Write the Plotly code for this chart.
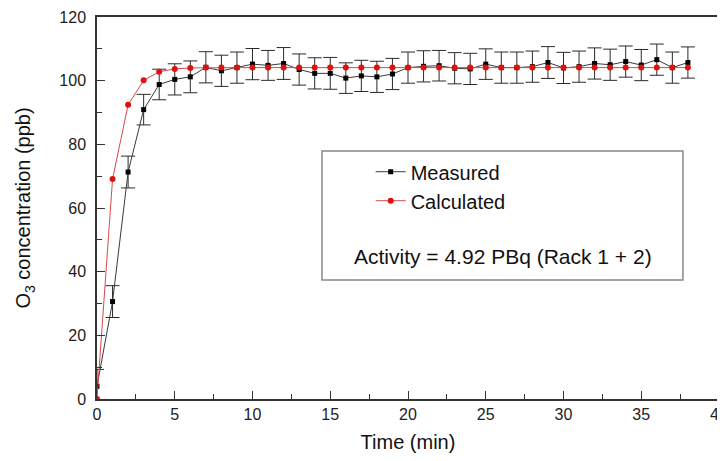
import plotly.graph_objects as go

time_min = list(range(0, 39))
measured = [4.0, 30.6, 71.3, 90.9, 98.8, 100.4, 101.2, 104.2, 103.1, 104.1,
            105.2, 104.8, 105.4, 103.5, 102.3, 102.3, 100.8, 101.5, 101.2, 102.1,
            104.1, 104.5, 104.7, 103.9, 103.7, 105.2, 104.1, 104.1, 104.4, 105.7,
            104.0, 104.4, 105.4, 105.0, 106.0, 104.9, 106.6, 104.1, 105.7]
measured_err = [5.3, 5.0, 5.0, 4.8, 4.8, 4.9, 5.0, 4.9, 4.9, 4.9,
                4.9, 4.7, 5.0, 4.9, 4.9, 5.0, 4.8, 4.9, 4.9, 4.9,
                4.9, 4.9, 4.8, 4.9, 4.9, 4.8, 4.9, 4.9, 4.9, 5.0,
                4.9, 4.9, 4.9, 4.9, 4.9, 4.9, 4.9, 4.9, 4.9]
calculated = [0.0, 69.1, 92.4, 100.1, 102.8, 103.7, 104.0, 104.1, 104.1, 104.1,
              104.1, 104.1, 104.1, 104.1, 104.1, 104.1, 104.1, 104.1, 104.1, 104.1,
              104.1, 104.1, 104.1, 104.1, 104.1, 104.1, 104.1, 104.1, 104.1, 104.1,
              104.1, 104.1, 104.1, 104.1, 104.1, 104.1, 104.1, 104.1, 104.1]

x_ticks = [0, 5, 10, 15, 20, 25, 30, 35, 40]
y_ticks = [0, 20, 40, 60, 80, 100, 120]

FONT = "Liberation Sans, Arial, sans-serif"

fig = go.Figure()
fig.add_trace(go.Scatter(
    x=time_min, y=measured, name="Measured", mode="lines+markers",
    line=dict(color="#3a3a3a", width=1),
    marker=dict(symbol="square", size=5, color="#000000"),
    error_y=dict(type="data", array=measured_err, visible=True,
                 color="#2a2a2a", thickness=1, width=7),
))
fig.add_trace(go.Scatter(
    x=time_min, y=calculated, name="Calculated", mode="lines+markers",
    line=dict(color="#d94848", width=1),
    marker=dict(symbol="circle", size=6, color="#e01010"),
))

# legend box frame
fig.add_shape(type="rect", xref="x domain", yref="y domain",
              x0=0.3617, x1=0.942, y0=0.3115, y1=0.649,
              line=dict(color="#888888", width=1.5), fillcolor="rgba(0,0,0,0)")
fig.add_annotation(text="Activity = 4.92 PBq (Rack 1 + 2)", xref="x domain", yref="y domain",
                   x=0.6535, y=0.374, showarrow=False,
                   font=dict(family=FONT, size=21, color="#111111"))

axis_common = dict(
    showline=True, linecolor="#333333", linewidth=1.5, mirror=True,
    ticks="inside", ticklen=8, tickwidth=1.2, tickcolor="#333333",
    showgrid=False, zeroline=False, automargin=False,
    tickfont=dict(family=FONT, size=16, color="#222222"),
)

fig.update_xaxes(
    range=[0, 40], tickmode="array", tickvals=x_ticks,
    minor=dict(dtick=2.5, ticks="inside", ticklen=5, tickcolor="#333333", tickwidth=1.2),
    title=dict(text="Time (min)", font=dict(family=FONT, size=20, color="#111111"), standoff=13),
    **axis_common,
)
fig.update_yaxes(
    range=[0, 120], tickmode="array", tickvals=y_ticks,
    minor=dict(dtick=10, ticks="inside", ticklen=5, tickcolor="#333333", tickwidth=1.2),
    title=dict(text="O<sub>3</sub> concentration (ppb)", font=dict(family=FONT, size=20, color="#111111"), standoff=23),
    ticklabelstandoff=6,
    **axis_common,
)

# the page places the figure 8px in from the top-left corner; margins compensate
fig.update_layout(
    width=725, height=461,
    margin=dict(l=89, r=14, t=9, b=70),
    paper_bgcolor="white", plot_bgcolor="white",
    showlegend=True,
    legend=dict(x=0.44, y=0.646, xanchor="left", yanchor="top",
                bgcolor="rgba(0,0,0,0)", borderwidth=0,
                font=dict(family=FONT, size=20, color="#111111"),
                tracegroupgap=0, itemwidth=30),
)

fig.write_html("out.html")
